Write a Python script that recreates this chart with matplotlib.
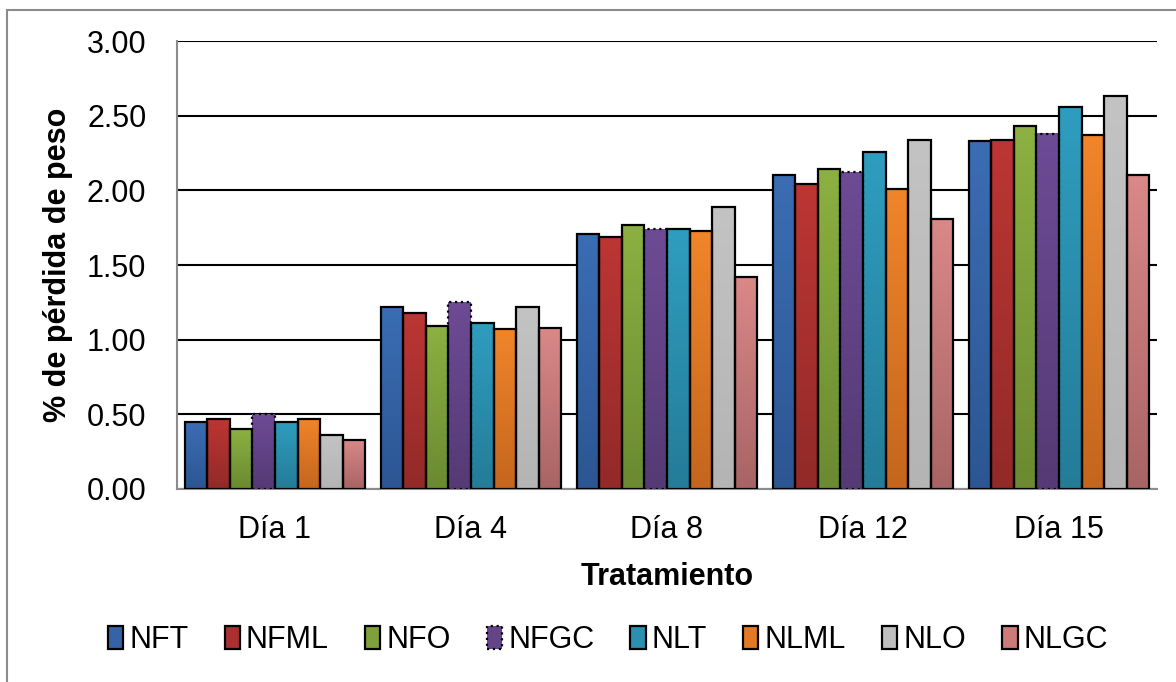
import numpy as np
import matplotlib
matplotlib.use("Agg")
import matplotlib.pyplot as plt
from matplotlib.patches import Patch, Rectangle
from matplotlib.colors import to_rgb

plt.rcParams['font.family'] = ['Liberation Sans', 'DejaVu Sans']

# Data
days = ["Día 1", "Día 4", "Día 8", "Día 12", "Día 15"]
series = ["NFT", "NFML", "NFO", "NFGC", "NLT", "NLML", "NLO", "NLGC"]
nft  = [0.45, 1.22, 1.71, 2.10, 2.33]
nfml = [0.47, 1.18, 1.69, 2.04, 2.34]
nfo  = [0.40, 1.09, 1.77, 2.14, 2.43]
nfgc = [0.50, 1.25, 1.74, 2.12, 2.38]
nlt  = [0.45, 1.11, 1.74, 2.26, 2.56]
nlml = [0.47, 1.07, 1.73, 2.01, 2.37]
nlo  = [0.36, 1.22, 1.89, 2.34, 2.63]
nlgc = [0.33, 1.08, 1.42, 1.81, 2.10]
values = [nft, nfml, nfo, nfgc, nlt, nlml, nlo, nlgc]

# gradient colours (top, bottom)
top_cols = ['#3B6DB4', '#BC3634', '#8CB041', '#6D4B95', '#2F9DBF', '#F0852A', '#C3C3C3', '#DA8888']
bot_cols = ['#2C5693', '#922A28', '#6B8A31', '#553A75', '#247C98', '#C4661D', '#B4B4B4', '#A86464']
mid_cols = ['#3463A8', '#AC302F', '#7FA03B', '#634488', '#2A90B0', '#E27A25', '#BEBEBE', '#CC7A7A']

fig = plt.figure(figsize=(11.76, 6.82), dpi=100)
ax = fig.add_axes([177/1176, 1-489/682, 980/1176, 448/682])

# outer frame (Excel chart area border)
fig.patches.append(Rectangle((7/1176, -0.05), 1.2, 1.05-10/682, transform=fig.transFigure,
                             fill=False, edgecolor='#8c8c8c', linewidth=1.5))

x = np.arange(len(days))
n = len(series)
w = 0.115
for i, (name, vals) in enumerate(zip(series, values)):
    pos = x - w*n/2 + w*i + w/2
    ls = ':' if name == "NFGC" else '-'
    bars = ax.bar(pos, vals, width=w, facecolor='none', edgecolor='black',
                  linewidth=1.6, linestyle=ls, zorder=4)
    c0 = np.array(to_rgb(bot_cols[i]))
    c1 = np.array(to_rgb(top_cols[i]))
    grad = np.linspace(0, 1, 64)[:, None, None]
    img = c0 + (c1 - c0) * grad
    for b in bars:
        ax.imshow(img, extent=[b.get_x(), b.get_x()+b.get_width(), 0, b.get_height()],
                  origin='lower', aspect='auto', zorder=3, interpolation='bilinear')

ax.set_xlim(-0.5, len(days)-0.5)
ax.set_ylim(0, 3.0)
ax.set_yticks(np.arange(0, 3.01, 0.5))
ax.set_yticklabels([f"{v:.2f}" for v in np.arange(0, 3.01, 0.5)])
ax.set_xticks(x)
ax.set_xticklabels(days)
ax.tick_params(axis='both', length=0, labelsize=22)
ax.tick_params(axis='x', pad=19)
ax.tick_params(axis='y', pad=22)
ax.yaxis.grid(True, color='black', linewidth=1.5)
ax.set_axisbelow(True)
for s in ['top', 'right']:
    ax.spines[s].set_visible(False)
for s in ['left', 'bottom']:
    ax.spines[s].set_color('#8c8c8c')
    ax.spines[s].set_linewidth(1.5)

ax.set_xlabel("Tratamiento", fontsize=22, fontweight='bold', labelpad=12)
ax.set_ylabel("% de pérdida de peso", fontsize=22, fontweight='bold', labelpad=10)

handles = [Patch(facecolor=mid_cols[i], edgecolor='black', linewidth=1.6,
                 linestyle=':' if series[i] == "NFGC" else '-') for i in range(n)]
fig.legend(handles, series, loc='center', bbox_to_anchor=(0.517, 1-640/682), ncol=n,
           frameon=False, fontsize=22, handlelength=0.5, handleheight=0.75,
           handletextpad=0.2, columnspacing=1.18)

fig.savefig("out.png", dpi=100)
